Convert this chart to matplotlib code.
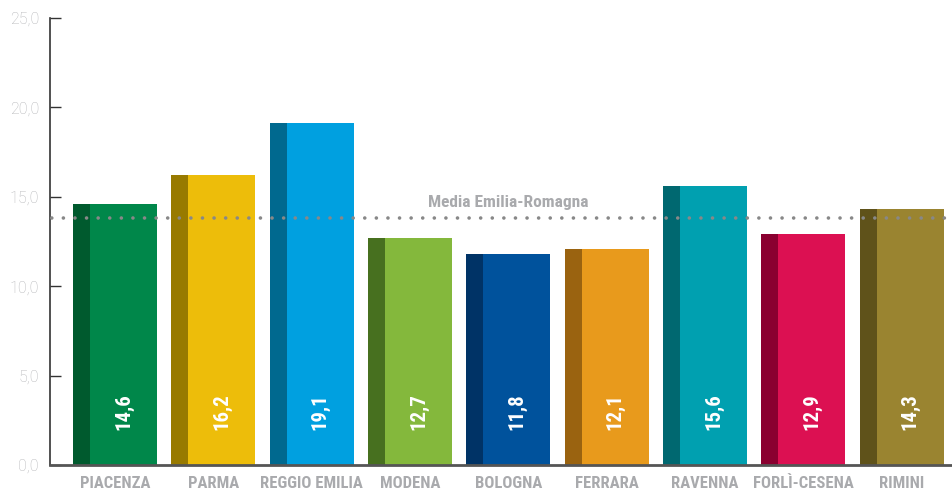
import matplotlib
matplotlib.use("Agg")
import matplotlib.pyplot as plt
import numpy as np

province = ['PIACENZA', 'PARMA', 'REGGIO EMILIA', 'MODENA', 'BOLOGNA',
            'FERRARA', 'RAVENNA', 'FORLÌ-CESENA', 'RIMINI']
valori = [14.6, 16.2, 19.1, 12.7, 11.8, 12.1, 15.6, 12.9, 14.3]
media_regione = 13.8
colori = ['#00874a', '#edbd0a', '#00a0e0', '#84b83c', '#00529c',
          '#e89a1c', '#00a0b0', '#dc1052', '#9a8430']
colori_scuri = ['#005a2e', '#987a00', '#00698f', '#47701f', '#003366',
                '#9a6310', '#006870', '#8a0030', '#5f521a']
yticks = [0, 5, 10, 15, 20, 25]

plt.rcParams['font.family'] = ['Roboto Condensed', 'DejaVu Sans']

fig = plt.figure(figsize=(9.52, 4.96), dpi=100)
ax = fig.add_axes([50 / 952, 31 / 496, 902 / 952, 447 / 496])

x = np.arange(len(province))
larg = 0.854      # larghezza totale della barra
lato = 0.173      # striscia scura a sinistra

# parte principale + lato scuro
ax.bar(x + lato / 2, valori, larg - lato, color=colori, zorder=2)
ax.bar(x - larg / 2 + lato / 2, valori, lato, color=colori_scuri, zorder=2)

for xi, v in zip(x, valori):
    ax.text(xi + lato / 2, 3.0, f'{v:.1f}'.replace('.', ','), rotation=90,
            ha='center', va='center', color='white', fontsize=15,
            fontweight='bold', zorder=4)

# linea della media regionale
ax.plot([-1, 10], [media_regione, media_regione], color='#888888', lw=2.6,
        linestyle=(0, (0.01, 3.2)), dash_capstyle='round', zorder=3)
ax.text(4.0, media_regione + 0.65, 'Media Emilia-Romagna', ha='center',
        va='baseline', color='#a9aaad', fontsize=12.5, fontweight='bold')

ax.set_xlim(-0.66, 8.51)
ax.set_ylim(0, 25)
ax.set_xticks(x)
ax.set_xticklabels(province, fontsize=12, fontweight='bold', color='#a9aaad')
ax.tick_params(axis='x', length=0, pad=8)
ax.set_yticks(yticks)
ax.set_yticklabels([f'{t:.1f}'.replace('.', ',') for t in yticks],
                   fontsize=11.5, color='#b4b5b8', family='Roboto', fontweight='light')
ax.tick_params(axis='y', direction='in', length=8, width=1, color='#333333', pad=8)

for s in ['top', 'right']:
    ax.spines[s].set_visible(False)
ax.spines['left'].set_color('#333333')
ax.spines['left'].set_linewidth(1.2)
ax.spines['bottom'].set_color('#555555')
ax.spines['bottom'].set_linewidth(2)
ax.spines['bottom'].set_zorder(5)

fig.savefig('out.png', dpi=100)
